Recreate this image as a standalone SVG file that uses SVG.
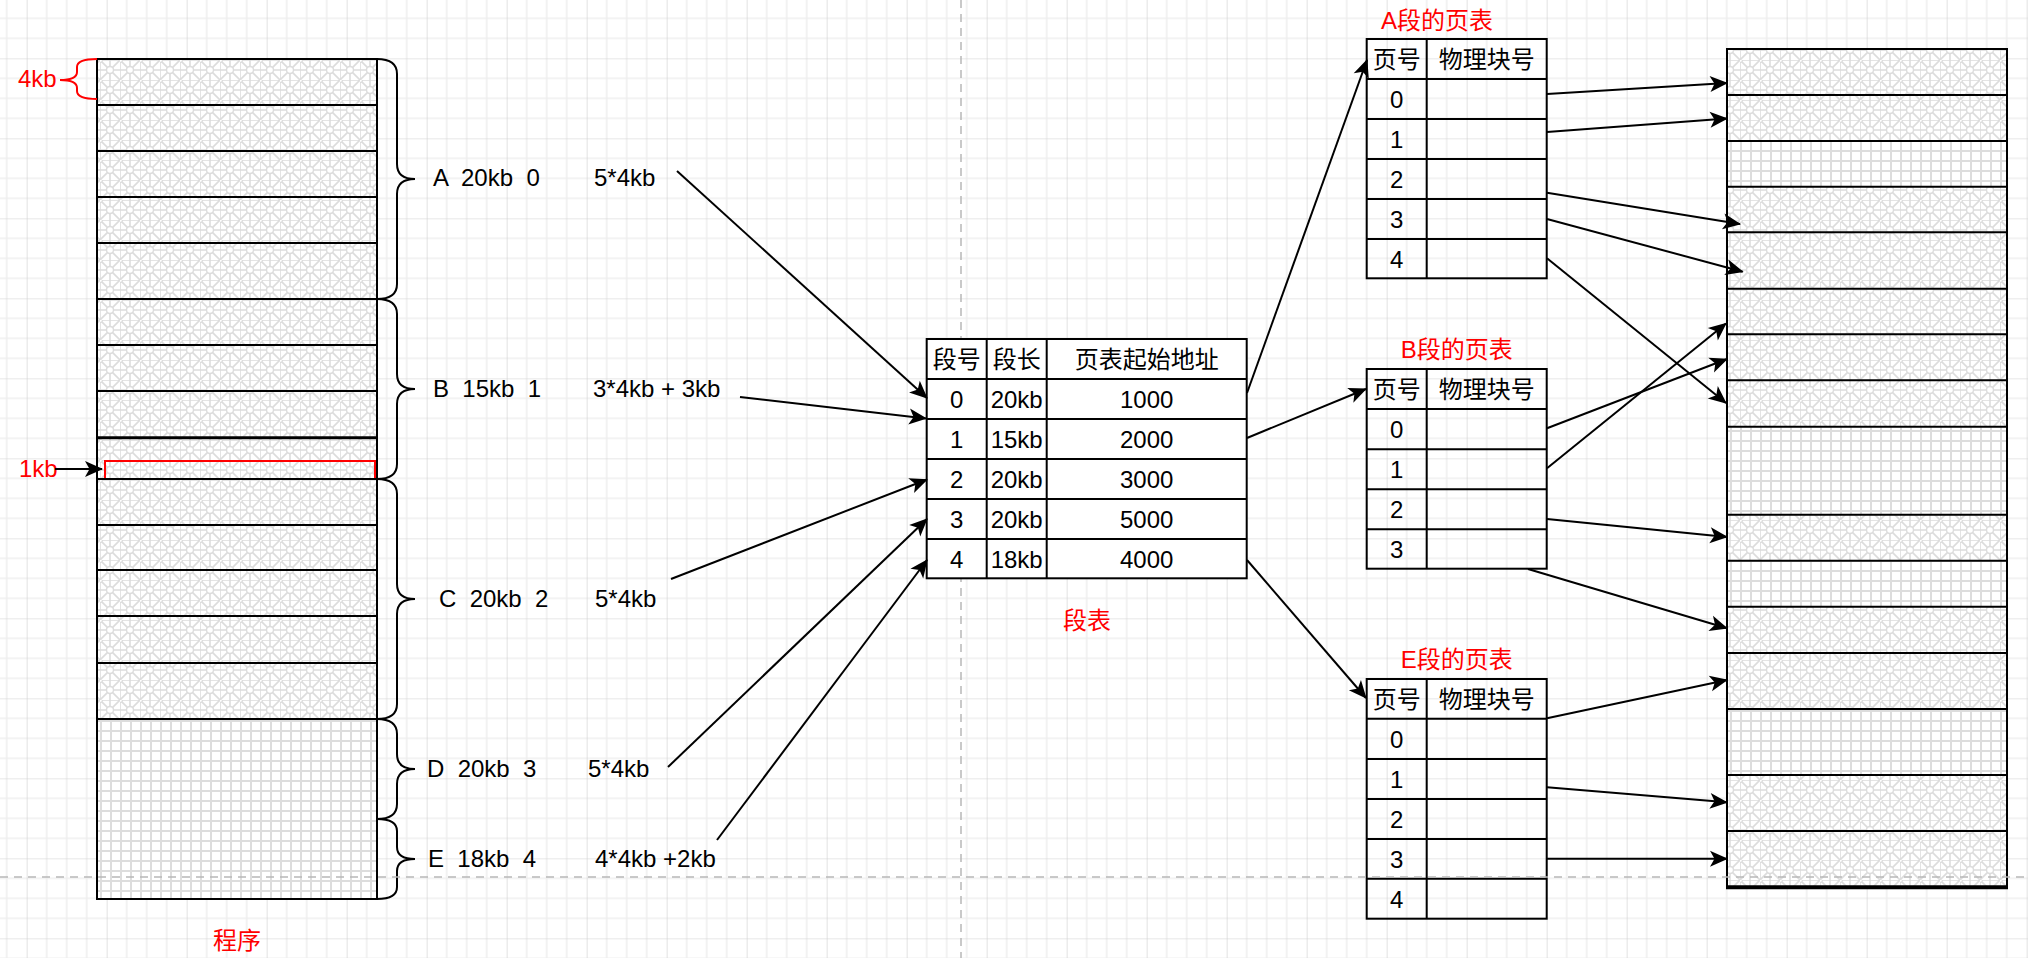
<svg xmlns="http://www.w3.org/2000/svg" width="2028" height="958" viewBox="0 0 2028 958">
<defs>
<style>
.t{font-family:"Liberation Sans","Noto Sans CJK SC",Arial,sans-serif;font-size:24px;fill:#000;white-space:pre}
.r{fill:#ff0000}
.m{text-anchor:middle}
.ln{stroke:#000;stroke-width:2;fill:none}
.cn{stroke:#000;stroke-width:2;fill:none;marker-end:url(#ah)}
.br{stroke:#000;stroke-width:2;fill:none}
</style>
<pattern id="bg" x="26.67" y="58.33" width="80" height="80" patternUnits="userSpaceOnUse">
<rect width="80" height="80" fill="#fff"/>
<path d="M20 0V80M40 0V80M60 0V80M0 20H80M0 40H80M0 60H80" stroke="#efefef" stroke-width="1.6"/>
<path d="M0 0V80M0 0H80" stroke="#d0d0d0" stroke-width="1.2"/>
</pattern>
<pattern id="hat" x="0" y="0" width="20" height="20" patternUnits="userSpaceOnUse">
<rect width="20" height="20" fill="#fff"/>
<path d="M0 0V20M10 0V20M0 0H20M0 10H20M0 0L20 20M20 0L0 20" stroke="#dcdcdc" stroke-width="1.6"/>
<circle cx="10" cy="10" r="3.5" fill="#fff" stroke="#dcdcdc" stroke-width="1.4"/>
<circle cx="0" cy="0" r="2.5" fill="#fff" stroke="#dcdcdc" stroke-width="1.2"/>
</pattern>
<pattern id="grd" x="0" y="0" width="10" height="10" patternUnits="userSpaceOnUse">
<rect width="10" height="10" fill="#fff"/>
<path d="M1 0V10M0 1H10" stroke="#dddddd" stroke-width="2"/>
</pattern>
<marker id="ah" viewBox="-18 -10 20 20" refX="0" refY="0" markerWidth="20" markerHeight="20" markerUnits="userSpaceOnUse" orient="auto">
<path d="M1,0 L-17,-8 L-12.5,0 L-17,8 Z" fill="#000"/>
</marker>
</defs>
<rect width="2028" height="958" fill="url(#bg)"/>

<g id="program">
<rect x="97" y="59" width="280" height="240" fill="url(#hat)"/>
<rect x="97" y="299" width="280" height="180" fill="url(#hat)"/>
<rect x="97" y="479" width="280" height="240" fill="url(#hat)"/>
<rect x="97" y="719" width="280" height="180" fill="url(#grd)"/>
<path class="ln" d="M97 105H377M97 151H377M97 197H377M97 243H377M97 299H377M97 345H377M97 391H377M97 479H377M97 525H377M97 570H377M97 616H377M97 663H377M97 719H377"/>
<path d="M97 437.7H377" stroke="#000" stroke-width="3"/>
<rect x="97" y="59" width="280" height="840" class="ln"/>
<path d="M105 478V461H375V478" stroke="#ff0000" stroke-width="2" fill="none"/>
<text class="t m r" x="237" y="949">程序</text>
</g>

<g id="label-4kb">
<path d="M97 59Q77 59 77 67L77 72Q77 80 60 80Q77 80 77 88L77 91Q77 99 97 99" stroke="#ff0000" stroke-width="2" fill="none"/>
<text class="t r" x="18" y="87">4kb</text>
</g>
<g id="label-1kb">
<text class="t r" x="19" y="477">1kb</text>
</g>

<g id="braces">
<path class="br" d="M377 59Q397 59 397 74L397 164Q397 179 415 179Q397 179 397 194L397 284Q397 299 377 299"/>
<path class="br" d="M377 299Q397 299 397 314L397 374Q397 389 415 389Q397 389 397 404L397 464Q397 479 377 479"/>
<path class="br" d="M377 479Q397 479 397 494L397 584Q397 599 415 599Q397 599 397 614L397 704Q397 719 377 719"/>
<path class="br" d="M377 719Q397 719 397 734L397 754Q397 769 415 769Q397 769 397 784L397 804Q397 819 377 819"/>
<path class="br" d="M377 819Q397 819 397 831L397 847Q397 859 415 859Q397 859 397 871L397 887Q397 899 377 899"/>
</g>

<g id="segment-labels">
<text class="t" x="433" y="186">A  20kb  0</text>
<text class="t" x="594" y="186">5*4kb</text>
<text class="t" x="433" y="397">B  15kb  1</text>
<text class="t" x="593" y="397">3*4kb + 3kb</text>
<text class="t" x="439" y="607">C  20kb  2</text>
<text class="t" x="595" y="607">5*4kb</text>
<text class="t" x="427" y="777">D  20kb  3</text>
<text class="t" x="588" y="777">5*4kb</text>
<text class="t" x="428" y="867">E  18kb  4</text>
<text class="t" x="595" y="867">4*4kb +2kb</text>
</g>

<g id="memory">
<rect x="1727" y="49" width="280" height="838.3" fill="url(#hat)"/>
<rect x="1727" y="141" width="280" height="45.7" fill="url(#grd)"/>
<rect x="1727" y="426.7" width="280" height="88" fill="url(#grd)"/>
<rect x="1727" y="560.7" width="280" height="46" fill="url(#grd)"/>
<rect x="1727" y="709" width="280" height="66" fill="url(#grd)"/>
<path class="ln" d="M1727 95H2007M1727 141H2007M1727 186.7H2007M1727 232.3H2007M1727 288.7H2007M1727 334.3H2007M1727 380.3H2007M1727 426.7H2007M1727 514.7H2007M1727 560.7H2007M1727 606.7H2007M1727 653H2007M1727 709H2007M1727 775H2007M1727 831H2007"/>
<rect x="1727" y="49" width="280" height="838.3" class="ln"/>
<path d="M1726 887.3H2008" stroke="#000" stroke-width="4"/>
</g>

<g id="page-table-A">
<text class="t m r" x="1437" y="29">A段的页表</text>
<rect x="1366.7" y="39" width="180" height="239.3" class="ln"/>
<path class="ln" d="M1366.7 79H1546.7M1366.7 119H1546.7M1366.7 159H1546.7M1366.7 199H1546.7M1366.7 239H1546.7M1426.7 39V278.3"/>
<text class="t m" x="1396.7" y="68">页号</text>
<text class="t m" x="1486.7" y="68">物理块号</text>
<text class="t m" x="1396.7" y="107.5">0</text>
<text class="t m" x="1396.7" y="147.5">1</text>
<text class="t m" x="1396.7" y="187.5">2</text>
<text class="t m" x="1396.7" y="227.5">3</text>
<text class="t m" x="1396.7" y="267.5">4</text>
</g>

<g id="page-table-B">
<text class="t m r" x="1456.7" y="358">B段的页表</text>
<rect x="1366.7" y="369" width="180" height="199.7" class="ln"/>
<path class="ln" d="M1366.7 409H1546.7M1366.7 449.3H1546.7M1366.7 489.3H1546.7M1366.7 529.3H1546.7M1426.7 369V568.7"/>
<text class="t m" x="1396.7" y="398">页号</text>
<text class="t m" x="1486.7" y="398">物理块号</text>
<text class="t m" x="1396.7" y="437.5">0</text>
<text class="t m" x="1396.7" y="477.5">1</text>
<text class="t m" x="1396.7" y="517.5">2</text>
<text class="t m" x="1396.7" y="557.5">3</text>
</g>

<g id="page-table-E">
<text class="t m r" x="1456.7" y="668">E段的页表</text>
<rect x="1366.7" y="679" width="180" height="239.7" class="ln"/>
<path class="ln" d="M1366.7 718.7H1546.7M1366.7 759H1546.7M1366.7 799H1546.7M1366.7 839H1546.7M1366.7 878.7H1546.7M1426.7 679V918.7"/>
<text class="t m" x="1396.7" y="708">页号</text>
<text class="t m" x="1486.7" y="708">物理块号</text>
<text class="t m" x="1396.7" y="747.5">0</text>
<text class="t m" x="1396.7" y="787.5">1</text>
<text class="t m" x="1396.7" y="827.5">2</text>
<text class="t m" x="1396.7" y="867.5">3</text>
<text class="t m" x="1396.7" y="907.5">4</text>
</g>

<g id="page-breaks">
<path d="M961 0V958" stroke="#b8b8b8" stroke-width="1.5" stroke-dasharray="8 6"/>
<path d="M0 877H2028" stroke="#b8b8b8" stroke-width="1.5" stroke-dasharray="8 6"/>
</g>

<g id="segment-table">
<rect x="926.7" y="339" width="320" height="239.3" fill="#fff" stroke="#000" stroke-width="2"/>
<path class="ln" d="M926.7 379H1246.7M926.7 419H1246.7M926.7 459H1246.7M926.7 499H1246.7M926.7 539H1246.7M986.7 339V578.3M1046.7 339V578.3"/>
<text class="t m" x="956.7" y="368">段号</text>
<text class="t m" x="1016.7" y="368">段长</text>
<text class="t m" x="1146.7" y="368">页表起始地址</text>
<text class="t m" x="956.7" y="407.5">0</text>
<text class="t m" x="1016.7" y="407.5">20kb</text>
<text class="t m" x="1146.7" y="407.5">1000</text>
<text class="t m" x="956.7" y="447.5">1</text>
<text class="t m" x="1016.7" y="447.5">15kb</text>
<text class="t m" x="1146.7" y="447.5">2000</text>
<text class="t m" x="956.7" y="487.5">2</text>
<text class="t m" x="1016.7" y="487.5">20kb</text>
<text class="t m" x="1146.7" y="487.5">3000</text>
<text class="t m" x="956.7" y="527.5">3</text>
<text class="t m" x="1016.7" y="527.5">20kb</text>
<text class="t m" x="1146.7" y="527.5">5000</text>
<text class="t m" x="956.7" y="567.5">4</text>
<text class="t m" x="1016.7" y="567.5">18kb</text>
<text class="t m" x="1146.7" y="567.5">4000</text>
<text class="t m r" x="1087" y="629">段表</text>
</g>

<g id="connectors">
<path class="cn" d="M55 469H102"/>
<path class="cn" d="M677 171L927 398"/>
<path class="cn" d="M740 397L926 418.5"/>
<path class="cn" d="M671 579L927 479.5"/>
<path class="cn" d="M668 767L927 519"/>
<path class="cn" d="M717 840L927 560"/>
<path class="cn" d="M1247 393L1367 60"/>
<path class="cn" d="M1247 438L1366 389"/>
<path class="cn" d="M1247 560L1366 698"/>
<path class="cn" d="M1547 94L1727 83"/>
<path class="cn" d="M1547 132L1727 118.5"/>
<path class="cn" d="M1547 192.7L1740 224"/>
<path class="cn" d="M1547 219L1742.7 271.7"/>
<path class="cn" d="M1547 258.3L1726 403"/>
<path class="cn" d="M1547 428.3L1727 359"/>
<path class="cn" d="M1547 468.3L1726 323.5"/>
<path class="cn" d="M1547 519L1727 537"/>
<path class="cn" d="M1528 569L1727 628.3"/>
<path class="cn" d="M1547 718.3L1727 680"/>
<path class="cn" d="M1547 787.3L1727 802.3"/>
<path class="cn" d="M1547 858.7H1727"/>
</g>
</svg>
